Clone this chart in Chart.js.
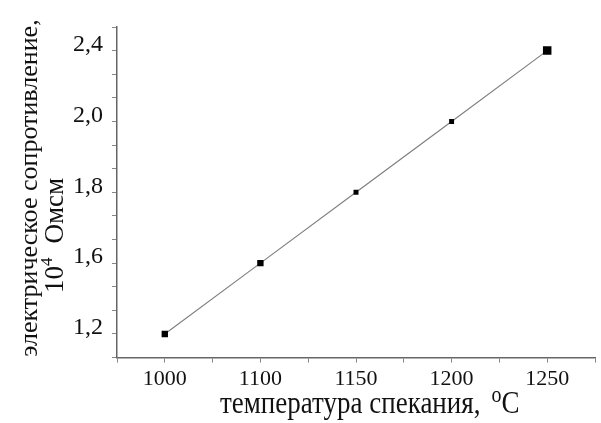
<!DOCTYPE html>
<html>
<head>
<meta charset="utf-8">
<script src="https://cdn.jsdelivr.net/npm/chart.js@4"></script>
<style>
  html, body { margin: 0; padding: 0; background: #fff; }
  #wrap { width: 601px; height: 423px; }
</style>
</head>
<body>
<div id="wrap"><canvas id="graphe"></canvas></div>
<script>
// Données
const temperatures = ['1000', '1100', '1150', '1200', '1250'];
const resistance = [1.2, 1.5, 1.8, 2.1, 2.4];
const tailleMarqueurs = [4.5, 4.5, 3.5, 3.5, 6];

// Graduations de l'axe Y (valeurs et textes affichés)
const yValeursTicks = [1.2, 1.5, 1.8, 2.1, 2.4];
const yTextesTicks = ['1,2', '1,6', '1,8', '2,0', '2,4'];

const titreY1 = 'электрическое сопротивление,';
const titreY2 = 'Омсм';
const titreX = 'температура спекания,';

const police = '"Liberation Serif", "Times New Roman", serif';

// Titres des axes dessinés à la main (exposants)
const titresAxes = {
    id: 'titresAxes',
    afterDraw(chart) {
        const ctx = chart.ctx;
        ctx.save();
        ctx.fillStyle = '#111';
        ctx.textBaseline = 'alphabetic';

        // Titre X : texte, puis "o" en exposant et "C"
        ctx.save();
        ctx.translate(220, 413);
        ctx.scale(1, 1.15);
        ctx.font = '27px ' + police;
        ctx.fillText(titreX, 0, 0);
        let x = ctx.measureText(titreX).width + 11;
        ctx.font = '20px ' + police;
        ctx.fillText('o', x, -10);
        x += ctx.measureText('o').width;
        ctx.font = '27px ' + police;
        ctx.fillText('C', x, 0);
        ctx.restore();

        // Titre Y, première ligne
        ctx.save();
        ctx.translate(37, 188);
        ctx.rotate(-Math.PI / 2);
        ctx.textAlign = 'center';
        ctx.font = '26px ' + police;
        ctx.fillText(titreY1, 0, 0);
        ctx.restore();

        // Titre Y, deuxième ligne : 10^4 Омсм
        ctx.save();
        ctx.translate(63, 293);
        ctx.rotate(-Math.PI / 2);
        ctx.font = '27px ' + police;
        ctx.fillText('10', 0, 0);
        let p = ctx.measureText('10').width;
        ctx.font = '17px ' + police;
        ctx.fillText('4', p, -11);
        p += ctx.measureText('4').width + 14;
        ctx.font = '27px ' + police;
        ctx.fillText(titreY2, p, 0);
        ctx.restore();

        ctx.restore();
    }
};

new Chart(document.getElementById('graphe'), {
    type: 'line',
    data: {
        datasets: [{
            data: resistance.map((v, i) => ({ x: i, y: v })),
            borderColor: '#808080',
            borderWidth: 1.2,
            pointStyle: 'rect',
            pointRadius: tailleMarqueurs,
            pointBackgroundColor: '#000',
            pointBorderColor: '#000',
            pointBorderWidth: 0,
            tension: 0
        }]
    },
    options: {
        responsive: true,
        maintainAspectRatio: false,
        animation: false,
        layout: { padding: { left: 64, right: 4, top: 27, bottom: 28 } },
        plugins: {
            legend: { display: false },
            tooltip: { enabled: false }
        },
        scales: {
            x: {
                type: 'linear',
                min: -0.5,
                max: 4.5,
                border: { color: '#666', width: 1.5 },
                grid: { drawOnChartArea: false, drawTicks: true, tickLength: 5, color: '#888' },
                ticks: {
                    stepSize: 0.5,
                    autoSkip: false,
                    maxRotation: 0,
                    padding: 3,
                    color: '#111',
                    font: { family: police, size: 22 },
                    callback: function(v) {
                        return Number.isInteger(v) ? temperatures[v] : '';
                    }
                }
            },
            y: {
                type: 'linear',
                min: 1.1,
                max: 2.5,
                border: { color: '#666', width: 1.5 },
                grid: { drawOnChartArea: false, drawTicks: true, tickLength: 5, color: '#888' },
                ticks: {
                    stepSize: 0.1,
                    autoSkip: false,
                    padding: 9,
                    labelOffset: -6,
                    color: '#111',
                    font: { family: police, size: 24 },
                    callback: function(v) {
                        const i = yValeursTicks.findIndex(t => Math.abs(t - v) < 1e-6);
                        return i >= 0 ? yTextesTicks[i] : '';
                    }
                }
            }
        }
    },
    plugins: [titresAxes]
});
</script>
</body>
</html>
